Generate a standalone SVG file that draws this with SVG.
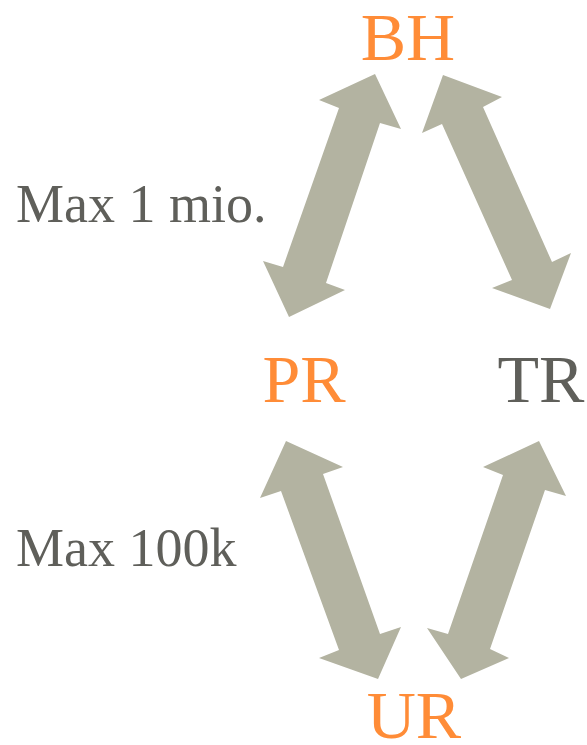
<svg xmlns="http://www.w3.org/2000/svg" width="587" height="745" viewBox="0 0 587 745">
<style>
.lbl{font-family:"Liberation Serif","DejaVu Serif",serif;font-size:68px;text-anchor:middle}
.or{fill:#ff8c37}
.gr{fill:#5f5f5a}
.side{font-family:"Liberation Serif","DejaVu Serif",serif;font-size:54px;fill:#5f5f5a}
.arr{fill:#b3b3a1}
</style>
<rect width="587" height="745" fill="#ffffff"/>
<g id="connectors">
<polygon class="arr" points="375,74 401,129 380,123 326,283 345,290 289,317 263,261 283,267 339,108 319,100"/>
<polygon class="arr" points="443,75 502,97 483,107 552,262 571,253 550,309 492,288 512,280 442,124 422,133"/>
<polygon class="arr" points="286,441 343,467 323,474 380,634 401,627 378,679 319,658 339,650 281,491 260,498"/>
<polygon class="arr" points="539,441 566,496 545,490 490,649 509,658 461,679 427,628 448,634 503,475 483,467"/>
</g>
<g id="BH"><text class="lbl or" x="408" y="60">BH</text></g>
<g id="PR"><text class="lbl or" x="304" y="402">PR</text></g>
<g id="TR"><text class="lbl gr" x="541" y="402">TR</text></g>
<g id="UR"><text class="lbl or" x="414" y="738">UR</text></g>
<g id="label-max1mio"><text class="side" x="16" y="222">Max 1 mio.</text></g>
<g id="label-max100k"><text class="side" x="16" y="566">Max 100k</text></g>
</svg>
